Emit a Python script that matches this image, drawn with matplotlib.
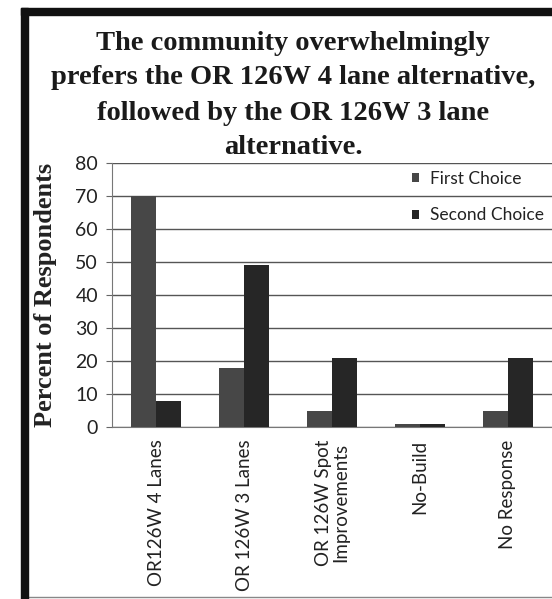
import matplotlib.pyplot as plt
from matplotlib.patches import Rectangle
from matplotlib.lines import Line2D
import numpy as np

# Survey results: share of respondents picking each alternative
categories = ['OR126W 4 Lanes', 'OR 126W 3 Lanes', 'OR 126W Spot\nImprovements',
              'No-Build', 'No Response']
first_choice = [70, 18, 5, 1, 5]
second_choice = [8, 49, 21, 1, 21]
yticks = [0, 10, 20, 30, 40, 50, 60, 70, 80]

title_lines = ['The community overwhelmingly',
               'prefers the OR 126W 4 lane alternative,',
               'followed by the OR 126W 3 lane',
               'alternative.']

W, H = 552, 599
fig = plt.figure(figsize=(W / 100, H / 100), dpi=100)
fig.patch.set_facecolor('white')

def fx(px):
    return px / W

def fy(py):
    return 1 - py / H

ax = fig.add_axes([fx(112), fy(427), fx(552) - fx(112), fy(163) - fy(427)])

x = np.arange(len(categories))
bw = 0.28
ax.bar(x - bw / 2, first_choice, bw, color='#474747', label='First Choice', zorder=3)
ax.bar(x + bw / 2, second_choice, bw, color='#262626', label='Second Choice', zorder=3)

ax.set_xlim(-0.5, len(categories) - 0.5)
ax.set_ylim(0, 80)
ax.set_yticks(yticks)
ax.set_yticklabels([str(v) for v in yticks], fontsize=14, family='Lato', color='#222222')
ax.tick_params(axis='y', length=4, color='#666666', pad=6)
ax.set_xticks(x)
ax.set_xticklabels(categories, rotation=90, va='top', ha='center',
                   fontsize=13.5, family='Lato', color='#222222', linespacing=1.0)
ax.tick_params(axis='x', length=0, pad=9)

ax.grid(axis='y', color='#555555', linewidth=1.0, zorder=0)
for side in ['top', 'right']:
    ax.spines[side].set_visible(False)
ax.spines['left'].set_color('#777777')
ax.spines['bottom'].set_color('#777777')

ax.set_ylabel('Percent of Respondents', family='Liberation Serif', fontweight='bold',
              fontsize=19, color='#222222')
ax.yaxis.set_label_coords((fx(57) - fx(112)) / (fx(552) - fx(112)), 0.5)

leg = fig.legend(loc='upper left', bbox_to_anchor=(fx(396), fy(155)), frameon=False,
                 prop={'family': 'Lato', 'size': 12.5}, handlelength=0.45, handleheight=0.45,
                 handletextpad=0.6, labelspacing=1.2)
for t in leg.get_texts():
    t.set_color('#222222')

# title, one line at a time
for i, line in enumerate(title_lines):
    fig.text(fx(293), fy(43 + 35 * i), line, ha='center', va='center',
             family='Liberation Serif', fontweight='bold', fontsize=20.5, color='#1a1a1a')

# page frame
fig.add_artist(Rectangle((fx(21), 0), fx(7), fy(8), transform=fig.transFigure,
                         color='#111111', zorder=5))
fig.add_artist(Rectangle((fx(21), fy(15)), 1, fy(8) - fy(15), transform=fig.transFigure,
                         color='#111111', zorder=5))
fig.add_artist(Line2D([fx(28), 1], [fy(597), fy(597)], transform=fig.transFigure,
                      color='#888888', linewidth=1))

fig.savefig('out.png', dpi=100)
